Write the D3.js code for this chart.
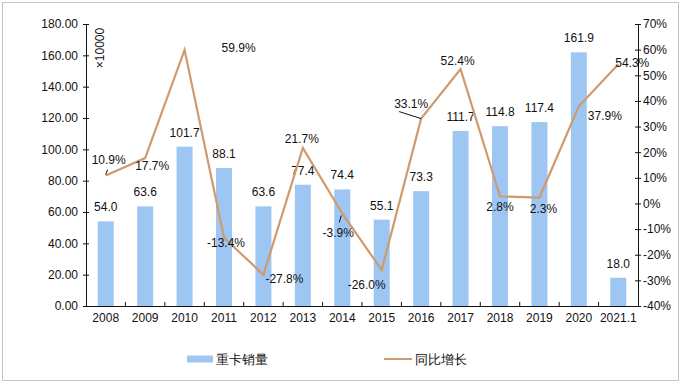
<!DOCTYPE html>
<html><head><meta charset="utf-8">
<script src="https://cdn.jsdelivr.net/npm/d3@7"></script>
<style>
body{margin:0;background:#fff;}
text{font-family:Arial,"Liberation Sans",sans-serif;fill:#111;}
</style></head>
<body><svg id="c" width="681" height="383"></svg>
<script>
const categories = ["2008","2009","2010","2011","2012","2013","2014","2015","2016","2017","2018","2019","2020","2021.1"];
const sales = [54.0,63.6,101.7,88.1,63.6,77.4,74.4,55.1,73.3,111.7,114.8,117.4,161.9,18.0];
const growth = [10.9,17.7,59.9,-13.4,-27.8,21.7,-3.9,-26.0,33.1,52.4,2.8,2.3,37.9,54.3];
const leftTicks = [0,20,40,60,80,100,120,140,160,180];
const rightTicks = [-40,-30,-20,-10,0,10,20,30,40,50,60,70];
const seriesNames = ["重卡销量","同比增长"];
// label placement offsets (dx, dy of label center relative to point)
const growthLabelOffsets = [[3,-16],[7,8],[54,-2],[2,5],[21,4],[-1,-9],[-4,19],[-15,15],[-10,-15],[-3,-8],[0,11],[4,11],[26,10],[14,-1]];

const svg = d3.select("#c");
const BAR = "#9DC6F3", LINE = "#CF9A6E";
svg.append("rect").attr("x",2.5).attr("y",2.5).attr("width",676).attr("height",378)
  .attr("fill","#fff").attr("stroke","#c4c4c4");

const x = d3.scaleBand().domain(categories).range([86,638]);
const yL = d3.scaleLinear().domain([0,180]).range([306,24]);
const yR = d3.scaleLinear().domain([-40,70]).range([306,24]);
const bw = 16;

// bars
svg.selectAll("rect.bar").data(sales).join("rect").attr("class","bar")
  .attr("x",(d,i)=>x(categories[i])+x.bandwidth()/2-bw/2)
  .attr("y",d=>yL(d)).attr("width",bw).attr("height",d=>yL(0)-yL(d)).attr("fill",BAR);

// bar labels
svg.selectAll("text.bl").data(sales).join("text").attr("class","bl")
  .attr("x",(d,i)=>x(categories[i])+x.bandwidth()/2)
  .attr("y",d=>yL(d)-10).attr("text-anchor","middle").attr("font-size",12)
  .text(d=>d.toFixed(1));

// line
const cx = i=>x(categories[i])+x.bandwidth()/2;
svg.append("path").datum(growth)
  .attr("d",d3.line().x((d,i)=>cx(i)).y(d=>yR(d)))
  .attr("fill","none").attr("stroke",LINE).attr("stroke-width",2.2);

// leader lines
svg.append("line").attr("x1",cx(0)).attr("y1",yR(growth[0])-1).attr("x2",cx(0)+2).attr("y2",yR(growth[0])-6).attr("stroke","#111");
svg.append("line").attr("x1",cx(6)-3).attr("y1",yR(growth[6])+9).attr("x2",cx(6)-1).attr("y2",yR(growth[6])+2).attr("stroke","#111");
svg.append("line").attr("x1",cx(8)-22).attr("y1",yR(growth[8])-7).attr("x2",cx(8)).attr("y2",yR(growth[8])).attr("stroke","#111");

// growth labels
svg.selectAll("text.gl").data(growth).join("text").attr("class","gl")
  .attr("x",(d,i)=>cx(i)+growthLabelOffsets[i][0])
  .attr("y",(d,i)=>yR(d)+growthLabelOffsets[i][1])
  .attr("dy","0.35em").attr("text-anchor","middle").attr("font-size",12)
  .text(d=>d.toFixed(1)+"%");

// axes
const axL = svg.append("g").attr("transform","translate(86,0)")
  .call(d3.axisLeft(yL).tickValues(leftTicks).tickFormat(d=>d.toFixed(2)).tickSizeInner(3).tickSizeOuter(0));
axL.selectAll(".tick line").attr("x1",3).attr("x2",-3);
const axR = svg.append("g").attr("transform","translate(638,0)")
  .call(d3.axisRight(yR).tickValues(rightTicks).tickFormat(d=>d+"%").tickSizeInner(3).tickSizeOuter(0));
axR.selectAll(".tick line").attr("x1",-3).attr("x2",3);
const axB = svg.append("g").attr("transform","translate(0,306)")
  .call(d3.axisBottom(x).tickSize(0));
axB.selectAll(".tick text").attr("dy","1.05em");
// category separators
svg.selectAll("line.sep").data(categories.slice(1)).join("line").attr("class","sep")
  .attr("x1",d=>x(d)).attr("x2",d=>x(d)).attr("y1",306).attr("y2",302).attr("stroke","#111");

[axL,axR,axB].forEach(a=>{
  a.selectAll("text").attr("font-size",12).attr("fill","#111").attr("font-family","Arial, 'Liberation Sans', sans-serif");
  a.selectAll("path,line").attr("stroke","#111");
});
axL.selectAll(".tick text").attr("x",-8);
axR.selectAll(".tick text").attr("x",5);

// unit label
svg.append("text").attr("transform","translate(104,48) rotate(-90)")
  .attr("text-anchor","middle").attr("font-size",12).text("×10000");

// legend
svg.append("rect").attr("x",187).attr("y",355.5).attr("width",26).attr("height",7).attr("fill",BAR);
svg.append("text").attr("x",216).attr("y",359).attr("dy","0.35em").attr("font-size",13)
  .attr("font-family","'Noto Sans CJK SC',sans-serif").text(seriesNames[0]);
svg.append("line").attr("x1",384).attr("x2",412).attr("y1",359).attr("y2",359).attr("stroke",LINE).attr("stroke-width",2);
svg.append("text").attr("x",415).attr("y",359).attr("dy","0.35em").attr("font-size",13)
  .attr("font-family","'Noto Sans CJK SC',sans-serif").text(seriesNames[1]);
</script></body></html>
